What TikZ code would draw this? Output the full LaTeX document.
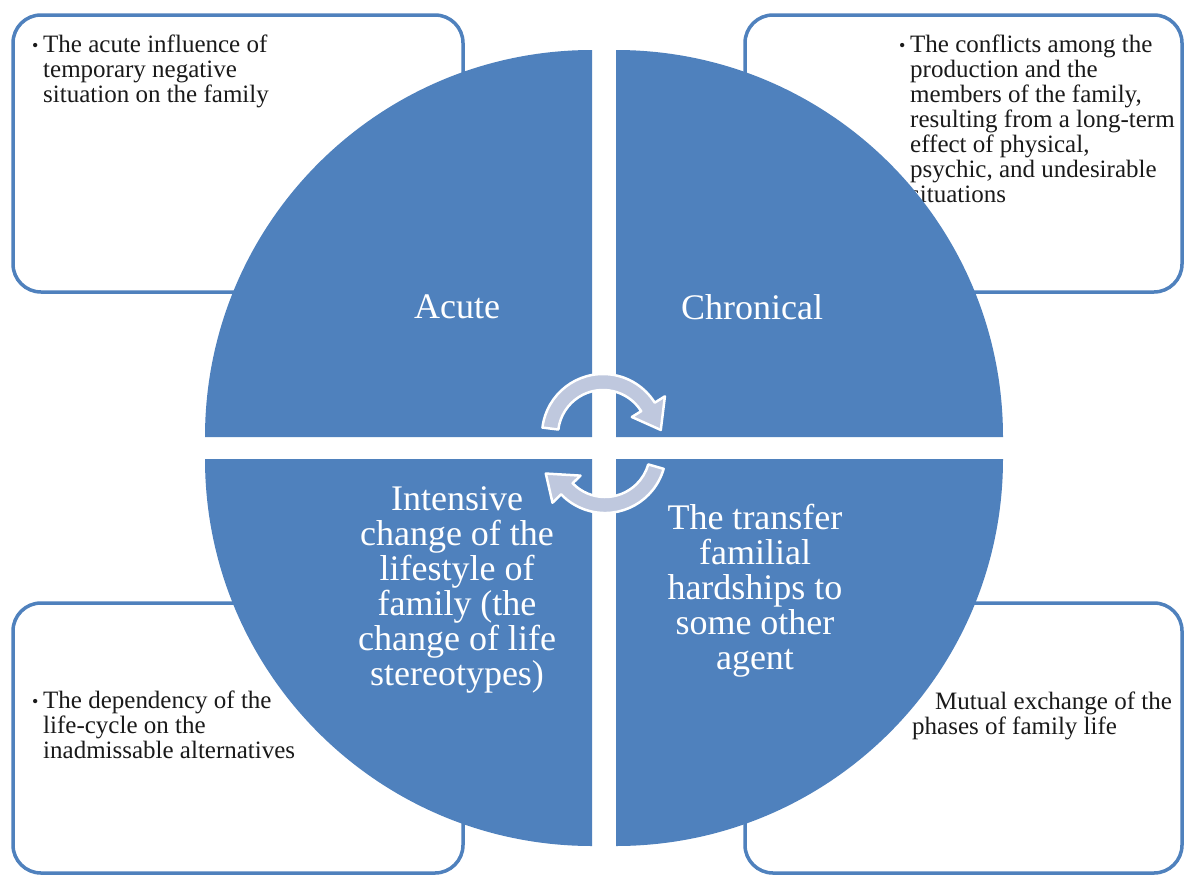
\documentclass[tikz,border=0pt]{standalone}
\usepackage{fontspec}
\setmainfont{Liberation Serif}
\definecolor{qblue}{HTML}{4F81BD}
\definecolor{arrfill}{HTML}{BFC8DE}
\definecolor{txtc}{HTML}{1A1A1A}
\newcommand\mybullet{\makebox[11pt][l]{\raisebox{0.5pt}{\fontsize{18}{18}\selectfont\textbullet}}}
\begin{document}
\begin{tikzpicture}[x=1pt,y=-1pt,
  box/.style={draw=qblue, line width=3.5pt, rounded corners=28pt, inner sep=0pt},
  btxt/.style={inner sep=0pt, anchor=north west, text=txtc, font=\fontsize{25}{25}\selectfont},
  qtxt/.style={inner sep=0pt, text=white, font=\fontsize{36}{35}\selectfont, align=center},
  quad/.style={fill=qblue},
  arr/.style={fill=arrfill, draw=white, line width=2.5pt, line join=round}]
\useasboundingbox (0,0) rectangle (1184,876);
\fill[white] (0,0) rectangle (1184,876);
% boxes
\node[box, minimum width=450pt, minimum height=277pt] (boxA) at (238,153.5) {};
\node[box, minimum width=437pt, minimum height=277pt] (boxC) at (963.5,153.5) {};
\node[box, minimum width=450pt, minimum height=270pt] (boxI) at (238,738) {};
\node[box, minimum width=437pt, minimum height=270pt] (boxT) at (963.5,738) {};
% box texts
\node[btxt] (tA) at (32,34.5) {\begin{tabular}{@{}l@{}l@{}}\mybullet & The acute influence of\\ & temporary negative\\ & situation on the family\end{tabular}};
\node[btxt] (tC) at (899,34.5) {\begin{tabular}{@{}l@{}l@{}}\mybullet & The conflicts among the\\ & production and the\\ & members of the family,\\ & resulting from a long-term\\ & effect of physical,\\ & psychic, and undesirable\\ & situations\end{tabular}};
\node[btxt] (tI) at (32,690.5) {\begin{tabular}{@{}l@{}l@{}}\mybullet & The dependency of the\\ & life-cycle on the\\ & inadmissable alternatives\end{tabular}};
\node[btxt] (tT) at (912,692) {\begin{tabular}{@{}l@{}}\hspace*{23pt}Mutual exchange of the\\ phases of family life\end{tabular}};
% quadrants
\fill[quad] (592,437) -- (205,437) arc[start angle=180, end angle=270, radius=387] -- cycle;
\fill[quad] (616,437) -- (1003,437) arc[start angle=0, end angle=-90, radius=387] -- cycle;
\fill[quad] (592,459) -- (205,459) arc[start angle=180, end angle=90, radius=387] -- cycle;
\fill[quad] (616,459) -- (1003,459) arc[start angle=0, end angle=90, radius=387] -- cycle;
% quadrant labels
\node[qtxt] (qA) at (457,307) {Acute};
\node[qtxt] (qC) at (752,307) {Chronical};
\node[qtxt] (qI) at (457,590) {Intensive\\change of the\\lifestyle of\\family (the\\change of life\\stereotypes)};
\node[qtxt] (qT) at (755,591) {The transfer\\familial\\hardships to\\some other\\agent};
% circular arrows
\begin{scope}[shift={(603,435)}, yscale=-1]
\draw[arr] (173:61) arc[start angle=173, end angle=32, radius=61] -- (32:73) -- (5:58) -- (32:34) -- (32:45) arc[start angle=32, end angle=173, radius=45] -- cycle;
\end{scope}
\begin{scope}[shift={(605,452)}, yscale=-1]
\draw[arr] (-16:61) arc[start angle=-16, end angle=-136, radius=61] -- (-136:73) -- (-160:63) -- (-136:34) -- (-136:45) arc[start angle=-136, end angle=-16, radius=45] -- cycle;
\end{scope}
\end{tikzpicture}
\end{document}
